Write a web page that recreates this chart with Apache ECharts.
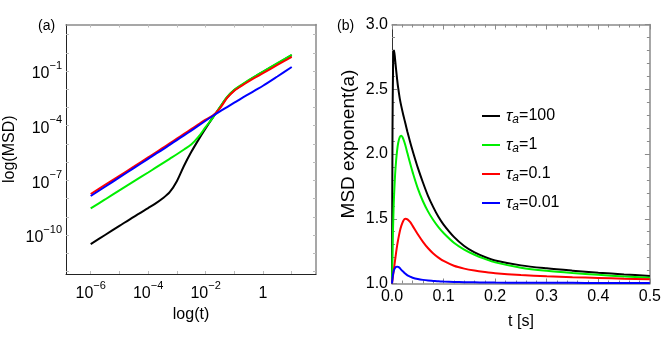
<!DOCTYPE html>
<html><head><meta charset="utf-8">
<script src="https://cdn.jsdelivr.net/npm/echarts@6/dist/echarts.min.js"></script>
<style>html,body{margin:0;padding:0;background:#fff}#c{width:664px;height:347px}</style>
</head><body><div id="c"></div>
<script>
// ---------- Panel (a): log10(t) vs log10(MSD) ----------
const logT = [-6,-5.5,-5,-4.5,-4,-3.75,-3.5,-3.25,-3,-2.75,-2.5,-2.25,-2,-1.75,-1.5,-1.25,-1,-0.75,-0.5,-0.25,0,0.5,1];
const msdBlack = [-10.5,-10.0,-9.5,-9.0,-8.52,-8.28,-8.0,-7.65,-7.05,-6.2,-5.45,-4.78,-4.15,-3.56,-3.0,-2.45,-2.05,-1.78,-1.52,-1.28,-1.05,-0.59,-0.13];
const msdGreen = [-8.54,-8.05,-7.55,-7.06,-6.57,-6.32,-6.07,-5.82,-5.57,-5.31,-5.04,-4.62,-4.08,-3.57,-2.98,-2.42,-2.03,-1.76,-1.50,-1.26,-1.03,-0.57,-0.12];
const msdRed   = [-7.75,-7.25,-6.75,-6.25,-5.74,-5.49,-5.23,-4.97,-4.71,-4.45,-4.19,-3.93,-3.67,-3.45,-3.05,-2.48,-2.08,-1.82,-1.57,-1.34,-1.12,-0.67,-0.22];
const msdBlue  = [-7.86,-7.35,-6.84,-6.33,-5.82,-5.56,-5.31,-5.05,-4.79,-4.53,-4.27,-4.00,-3.73,-3.47,-3.22,-2.98,-2.74,-2.50,-2.27,-2.04,-1.81,-1.30,-0.78];
const xTickExp = [-6,-4,-2,0];
const yTickExp = [-10,-7,-4,-1];

// ---------- Panel (b): MSD exponent vs t ----------
const tGrid = [0,0.001,0.002,0.003,0.004,0.006,0.008,0.010,0.012,0.015,0.018,0.022,0.026,0.030,0.035,0.040,0.050,0.060,0.070,0.080,0.090,0.100,0.120,0.140,0.160,0.180,0.200,0.250,0.300,0.350,0.400,0.450,0.500];
const expBlack = [1.0,2.2,2.65,2.78,2.80,2.73,2.65,2.575,2.51,2.43,2.37,2.30,2.235,2.17,2.095,2.025,1.895,1.78,1.675,1.59,1.515,1.455,1.36,1.29,1.24,1.205,1.178,1.14,1.117,1.099,1.083,1.07,1.058];
const expGreen = [1.0,1.22,1.42,1.57,1.68,1.84,1.95,2.03,2.085,2.13,2.14,2.115,2.065,2.005,1.93,1.86,1.735,1.635,1.555,1.49,1.435,1.39,1.315,1.262,1.222,1.19,1.163,1.122,1.098,1.081,1.067,1.055,1.045];
const expRed   = [1.0,1.03,1.06,1.09,1.12,1.18,1.24,1.295,1.34,1.40,1.445,1.485,1.50,1.495,1.475,1.445,1.38,1.322,1.272,1.232,1.20,1.174,1.137,1.115,1.10,1.089,1.08,1.066,1.056,1.049,1.043,1.037,1.033];
const expBlue  = [1.0,1.04,1.07,1.09,1.105,1.12,1.128,1.13,1.128,1.12,1.105,1.09,1.075,1.063,1.053,1.045,1.035,1.028,1.023,1.02,1.017,1.015,1.012,1.01,1.009,1.008,1.007,1.006,1.005,1.005,1.004,1.004,1.004];
const tauLabels = ['100','1','0.1','0.01'];
const colors = ['#000000','#00ee00','#ff0000','#0000ff'];

const FONT = 'Liberation Sans, Arial, sans-serif';
const pair = (xs, ys) => xs.map((x, i) => [x, ys[i]]);
const supLabel = v => v === 0 ? '{b|1}' : '{b|10}{s|\u2212' + Math.abs(v) + '}';
const richSup = {
  b: {fontSize: 16, fontFamily: FONT, color: '#000', lineHeight: 22, verticalAlign: 'bottom'},
  s: {fontSize: 11, fontFamily: FONT, color: '#000', lineHeight: 22, verticalAlign: 'top'}
};
const range = (a, b) => { const r = []; for (let i = a; i <= b; i++) r.push(i); return r; };

const chart = echarts.init(document.getElementById('c'), null, {renderer: 'canvas'});
const seriesNames = tauLabels.map(t => 'tau_a=' + t);
const msdSets = [msdBlack, msdGreen, msdRed, msdBlue];
const expSets = [expBlack, expGreen, expRed, expBlue];

const series = [];
msdSets.forEach((d, i) => series.push({
  type: 'line', xAxisIndex: 0, yAxisIndex: 0, data: pair(logT, d), showSymbol: false,
  smooth: 0.3, lineStyle: {color: colors[i], width: 2}, itemStyle: {color: colors[i]}, silent: true, z: 2 + i
}));
expSets.forEach((d, i) => series.push({
  type: 'line', name: seriesNames[i], xAxisIndex: 2, yAxisIndex: 2, data: pair(tGrid, d), showSymbol: false,
  smooth: 0.3, lineStyle: {color: colors[i], width: 2}, itemStyle: {color: colors[i]}, silent: true, z: 2 + i
}));

const gray = '#8a8a8a';
const lightTick = {show: true, inside: true, length: 3, lineStyle: {color: '#bbbbbb', width: 1}};
const line = (c, w) => ({show: true, onZero: false, lineStyle: {color: c, width: w}});

chart.setOption({
  animation: false,
  backgroundColor: '#fff',
  title: [
    {text: '(a)', left: 33, top: 14, textStyle: {fontFamily: FONT, fontSize: 14, fontWeight: 'normal', color: '#000'}},
    {text: '(b)', left: 332, top: 14, textStyle: {fontFamily: FONT, fontSize: 14, fontWeight: 'normal', color: '#000'}}
  ],
  grid: [
    {left: 66, top: 24.5, width: 250, height: 249.5},
    {left: 392, top: 24.5, width: 259, height: 259}
  ],
  legend: {
    data: seriesNames, orient: 'vertical', left: 477, top: 101, itemGap: 9,
    icon: 'rect', itemWidth: 18, itemHeight: 2,
    formatter: n => '{t|\u03c4}{s|a}{n|=' + n.split('=')[1] + '}',
    textStyle: {padding: [0, 0, 0, 1], rich: {
      t: {fontSize: 17, fontFamily: FONT, color: '#000', fontStyle: 'italic', lineHeight: 20},
      s: {fontSize: 12, fontFamily: FONT, color: '#000', fontStyle: 'italic', lineHeight: 20, verticalAlign: 'bottom', padding: [8, 0, 0, 0]},
      n: {fontSize: 16, fontFamily: FONT, color: '#000', lineHeight: 20}
    }}
  },
  xAxis: [
    {type: 'value', gridIndex: 0, min: -6.86, max: 1.845, position: 'bottom',
     name: 'log(t)', nameLocation: 'middle', nameGap: 31, nameTextStyle: {fontFamily: FONT, fontSize: 16, color: '#000'},
     axisLine: line('#222', 1),
     axisTick: Object.assign({customValues: range(-6, 1)}, lightTick),
     axisLabel: {customValues: xTickExp, formatter: supLabel, rich: richSup, margin: 6},
     splitLine: {show: false}},
    {type: 'value', gridIndex: 0, min: -6.86, max: 1.845, position: 'top',
     axisLine: line(gray, 1.5),
     axisTick: Object.assign({customValues: range(-6, 1)}, lightTick), axisLabel: {show: false}, splitLine: {show: false}},
    {type: 'value', gridIndex: 1, min: 0, max: 0.5, interval: 0.1, position: 'bottom',
     name: 't [s]', nameLocation: 'middle', nameGap: 30, nameTextStyle: {fontFamily: FONT, fontSize: 16, color: '#000'},
     axisLine: line(gray, 1.5),
     axisTick: {show: true, inside: true, length: 5, lineStyle: {color: gray}},
     minorTick: {show: true, splitNumber: 5, length: 3, lineStyle: {color: gray}},
     axisLabel: {formatter: v => v.toFixed(1), fontFamily: FONT, fontSize: 16, color: '#000', margin: 5},
     splitLine: {show: false}},
    {type: 'value', gridIndex: 1, min: 0, max: 0.5, interval: 0.1, position: 'top',
     axisLine: line(gray, 1.5),
     axisTick: {show: true, inside: true, length: 5, lineStyle: {color: gray}},
     minorTick: {show: true, splitNumber: 5, length: 3, lineStyle: {color: gray}},
     axisLabel: {show: false}, splitLine: {show: false}}
  ],
  yAxis: [
    {type: 'value', gridIndex: 0, min: -12.14, max: 1.552, position: 'left',
     name: 'log(MSD)', nameLocation: 'middle', nameGap: 48, nameTextStyle: {fontFamily: FONT, fontSize: 16, color: '#000'},
     axisLine: line('#222', 1),
     axisTick: Object.assign({customValues: range(-12, 1)}, lightTick),
     axisLabel: {customValues: yTickExp, formatter: supLabel, rich: richSup, margin: 4},
     splitLine: {show: false}},
    {type: 'value', gridIndex: 0, min: -12.14, max: 1.552, position: 'right',
     axisLine: line(gray, 1.5),
     axisTick: Object.assign({customValues: range(-12, 1)}, lightTick), axisLabel: {show: false}, splitLine: {show: false}},
    {type: 'value', gridIndex: 1, min: 1, max: 3, interval: 0.5, position: 'left',
     name: 'MSD exponent(a)', nameLocation: 'middle', nameGap: 34,
     nameTextStyle: {fontFamily: FONT, fontSize: 19, color: '#000', padding: [0, 0, 0, 20]},
     axisLine: line('#333', 1),
     axisTick: {show: true, inside: true, length: 5, lineStyle: {color: gray}},
     minorTick: {show: true, splitNumber: 5, length: 3, lineStyle: {color: gray}},
     axisLabel: {formatter: v => v.toFixed(1), fontFamily: FONT, fontSize: 16, color: '#000', margin: 4},
     splitLine: {show: false}},
    {type: 'value', gridIndex: 1, min: 1, max: 3, interval: 0.5, position: 'right',
     axisLine: line(gray, 1.5),
     axisTick: {show: true, inside: true, length: 5, lineStyle: {color: gray}},
     minorTick: {show: true, splitNumber: 5, length: 3, lineStyle: {color: gray}},
     axisLabel: {show: false}, splitLine: {show: false}}
  ],
  series: series
});
</script></body></html>
